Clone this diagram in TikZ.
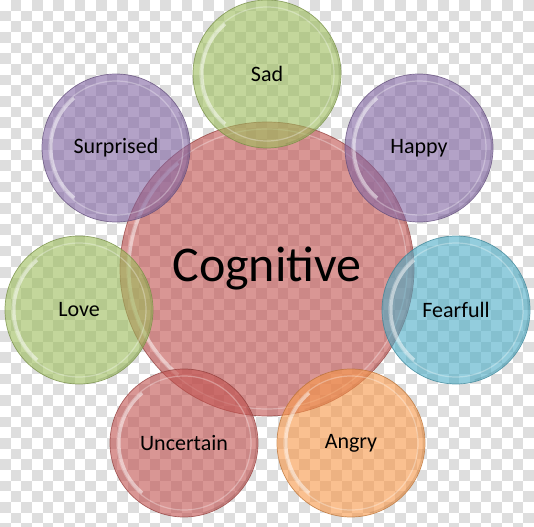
\documentclass[tikz,border=0pt]{standalone}
\usepackage{fontspec}
\setmainfont{Carlito}
\usetikzlibrary{calc}
\definecolor{cRed}{HTML}{C0504D}
\definecolor{cGreen}{HTML}{9BBB59}
\definecolor{cPurple}{HTML}{8064A2}
\definecolor{cAqua}{HTML}{4BACC6}
\definecolor{cOrange}{HTML}{F79646}
\definecolor{checker}{RGB}{222,222,222}
\tikzset{
  bubble/.style={circle, draw=#1!75!black, fill=#1, fill opacity=.6,
    text opacity=1, draw opacity=.75, line width=.7pt, inner sep=0pt,
    font=\fontsize{22}{26}\selectfont, text=black,
    path picture={
      \draw[white, draw opacity=.3, line width=1.2pt]
        let \p1=(path picture bounding box.east), \p2=(path picture bounding box.center)
        in (\p2) circle [radius={\x1-\x2-7pt}];
      \draw[white, draw opacity=.5, line width=3pt]
        let \p1=(path picture bounding box.east), \p2=(path picture bounding box.center),
            \n1={\x1-\x2-9pt}
        in ($(\p2)+(130:\n1)$) arc[start angle=130, end angle=230, radius=\n1];
      \draw[#1!60!black, draw opacity=.2, line width=1.5pt]
        let \p1=(path picture bounding box.east), \p2=(path picture bounding box.center),
            \n1={\x1-\x2-1.5pt}
        in ($(\p2)+(-75:\n1)$) arc[start angle=-75, end angle=30, radius=\n1];
    }},
  bigbubble/.style={bubble=#1, font=\fontsize{50}{56}\selectfont},
}
\begin{document}
\begin{tikzpicture}[x=1pt, y=-1pt]
\useasboundingbox (0,0) rectangle (534,526);
\begin{scope}
  \clip (0,0) rectangle (534,526);
  \foreach \i in {0,...,50}{
    \foreach \j in {0,...,50}{
      \ifodd\numexpr\i+\j\relax
        \fill[checker] (\i*10.68,\j*10.68) rectangle ++(10.68,10.68);
      \fi
    }
  }
\end{scope}
\node[bigbubble=cRed, minimum size=294pt] (cog) at (267,269) {Cognitive};
\node[bubble=cGreen, minimum size=148pt] (sad) at (267,74) {Sad};
\node[bubble=cPurple, minimum size=148pt] (happy) at (419,148) {Happy};
\node[bubble=cAqua, minimum size=148pt] (fear) at (456,310) {Fearfull};
\node[bubble=cOrange, minimum size=148pt] (angry) at (351,443) {Angry};
\node[bubble=cRed, minimum size=148pt] (unc) at (184,443) {Uncertain};
\node[bubble=cGreen, minimum size=148pt] (love) at (79,310) {Love};
\node[bubble=cPurple, minimum size=148pt] (surp) at (116,148) {Surprised};
\end{tikzpicture}
\end{document}
